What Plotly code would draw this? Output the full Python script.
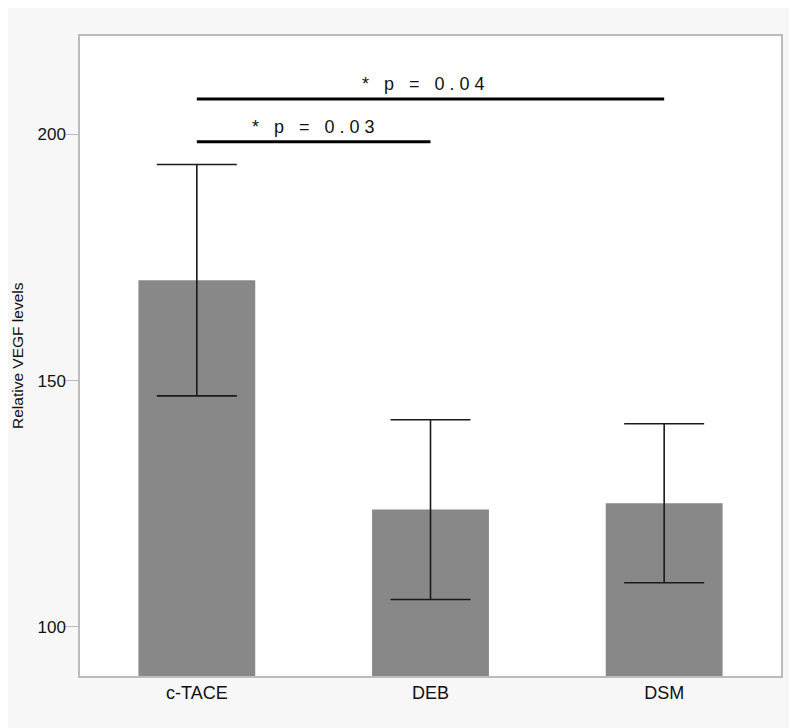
import plotly.graph_objects as go

categories = ["c-TACE", "DEB", "DSM"]
means = [170.4, 123.8, 125.1]
errors = [23.5, 18.25, 16.15]
y_ticks = [100, 150, 200]

comparisons = [
    {"from": 0, "to": 1, "y": 198.5, "label": "* p = 0.03"},
    {"from": 0, "to": 2, "y": 207.2, "label": "* p = 0.04"},
]
label_xshift = [0, -7]

def spaced(s):
    return "\u00a0".join(list(s.replace(" ", "\u00a0")))

FONT = "Liberation Sans, Arial, Helvetica, sans-serif"

fig = go.Figure()
fig.add_trace(go.Bar(
    x=categories, y=means, width=0.5,
    marker=dict(color="#888888", line=dict(width=0)),
    error_y=dict(type="data", array=errors, visible=True,
                 color="#1a1a1a", thickness=1.6, width=40),
    showlegend=False,
))

for c, xs in zip(comparisons, label_xshift):
    fig.add_shape(type="line", xref="x", yref="y",
                  x0=c["from"], x1=c["to"], y0=c["y"], y1=c["y"],
                  line=dict(color="black", width=3))
    fig.add_annotation(x=(c["from"] + c["to"]) / 2, y=c["y"], xref="x", yref="y",
                       text=spaced(c["label"]), showarrow=False, yanchor="bottom",
                       yshift=3, xshift=xs,
                       font=dict(size=18, color="#111111", family=FONT))

fig.add_annotation(x=0, y=0.5, xref="paper", yref="paper", xshift=-63,
                   text="Relative VEGF levels", textangle=-90, showarrow=False,
                   xanchor="center", yanchor="middle",
                   font=dict(size=15.5, color="#111111", family=FONT))

fig.update_layout(
    width=789, height=720,
    paper_bgcolor="#f7f7f7", plot_bgcolor="white",
    margin=dict(l=72, r=16, t=28, b=52),
    font=dict(family=FONT, color="#111111"),
)
fig.update_xaxes(showline=True, linecolor="#bcbcbc", linewidth=1.5, mirror=True,
                 ticks="", tickfont=dict(size=18), showgrid=False, automargin=False)
fig.update_yaxes(range=[90, 220], tickvals=y_ticks, showline=True, linecolor="#bcbcbc",
                 linewidth=1.5, mirror=True, ticks="outside", ticklen=12,
                 tickcolor="#bcbcbc", tickfont=dict(size=17), showgrid=False,
                 ticklabelstandoff=-3,
                 zeroline=False, automargin=False)

fig.write_html("out.html")
